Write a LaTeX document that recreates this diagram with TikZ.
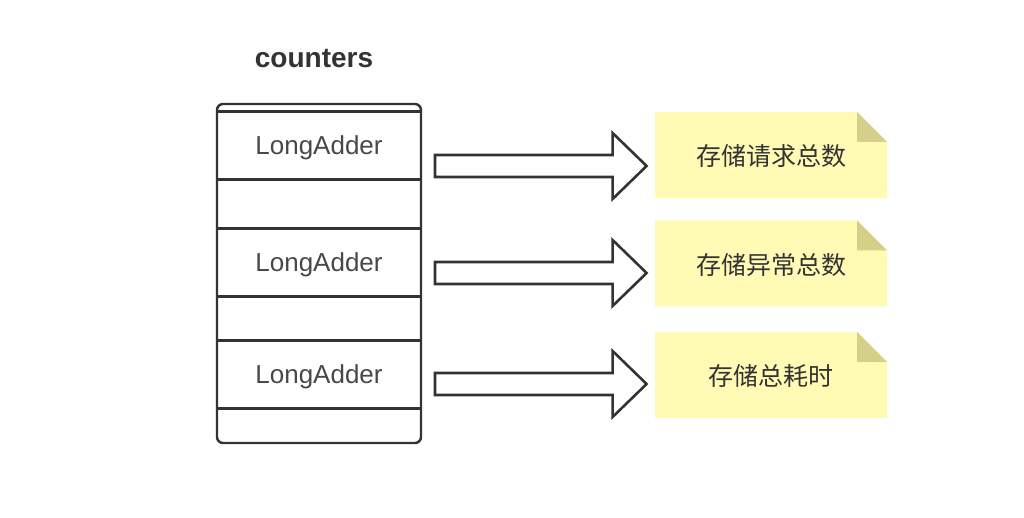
\documentclass[tikz,border=0pt]{standalone}
\usepackage{fontspec}
\setmainfont{Liberation Sans}
\newfontfamily\cjk{Noto Sans CJK SC}
\usetikzlibrary{calc}
\definecolor{linegray}{RGB}{51,51,51}
\definecolor{textgray}{RGB}{72,72,72}
\definecolor{notefill}{RGB}{255,251,181}
\definecolor{notefold}{RGB}{212,208,138}

\tikzset{
  cell/.style={draw=linegray, line width=1.2pt, minimum width=102pt, minimum height=34pt, inner sep=0pt, text depth=0pt, text=textgray, font=\fontsize{13}{15}\selectfont},
  note/.style={minimum width=116pt, minimum height=43pt, inner sep=0pt, text depth=0pt, text=linegray, font=\cjk\fontsize{12.5}{15}\selectfont,
    path picture={
      \fill[notefill] (path picture bounding box.south west) -- (path picture bounding box.north west) -- ([xshift=-15pt]path picture bounding box.north east) -- ([yshift=-15pt]path picture bounding box.north east) -- (path picture bounding box.south east) -- cycle;
      \fill[notefold] ([xshift=-15pt]path picture bounding box.north east) -- ([xshift=-15pt,yshift=-15pt]path picture bounding box.north east) -- ([yshift=-15pt]path picture bounding box.north east) -- cycle;}},
  blockarrow/.style={draw=linegray, line width=1.3pt, fill=white, line join=miter},
}

\newcommand{\bigarrow}[2]{%
  \draw[blockarrow] let \p1=(#1), \p2=(#2.west) in
    (\x1,\y1+5.5pt) -- (\x2-21pt,\y1+5.5pt) -- (\x2-21pt,\y1+16.5pt) -- (\x2-4pt,\y1)
    -- (\x2-21pt,\y1-16.5pt) -- (\x2-21pt,\y1-5.5pt) -- (\x1,\y1-5.5pt) -- cycle;}

\begin{document}
\begin{tikzpicture}[x=0.5pt, y=-0.5pt]
\useasboundingbox (0,0) rectangle (1024,518);
\node[font=\bfseries\fontsize{14}{16}\selectfont, text=linegray] (title) at (314,59) {counters};
% the array of counters
\draw[linegray, line width=1.2pt, rounded corners=3pt] (217,104) rectangle (421,443);
\node[cell] (add1) at (319,145.5) {LongAdder};
\node[cell] (add2) at (319,262.5) {LongAdder};
\node[cell] (add3) at (319,374.5) {LongAdder};
% notes
\node[note] (total) at (771,155) {存储请求总数};
\node[note] (error) at (771,263.5) {存储异常总数};
\node[note] (cost) at (771,375) {存储总耗时};
\coordinate (a1) at (435,166);
\coordinate (a2) at (435,273);
\coordinate (a3) at (435,384);
\bigarrow{a1}{total}
\bigarrow{a2}{error}
\bigarrow{a3}{cost}
\end{tikzpicture}
\end{document}
